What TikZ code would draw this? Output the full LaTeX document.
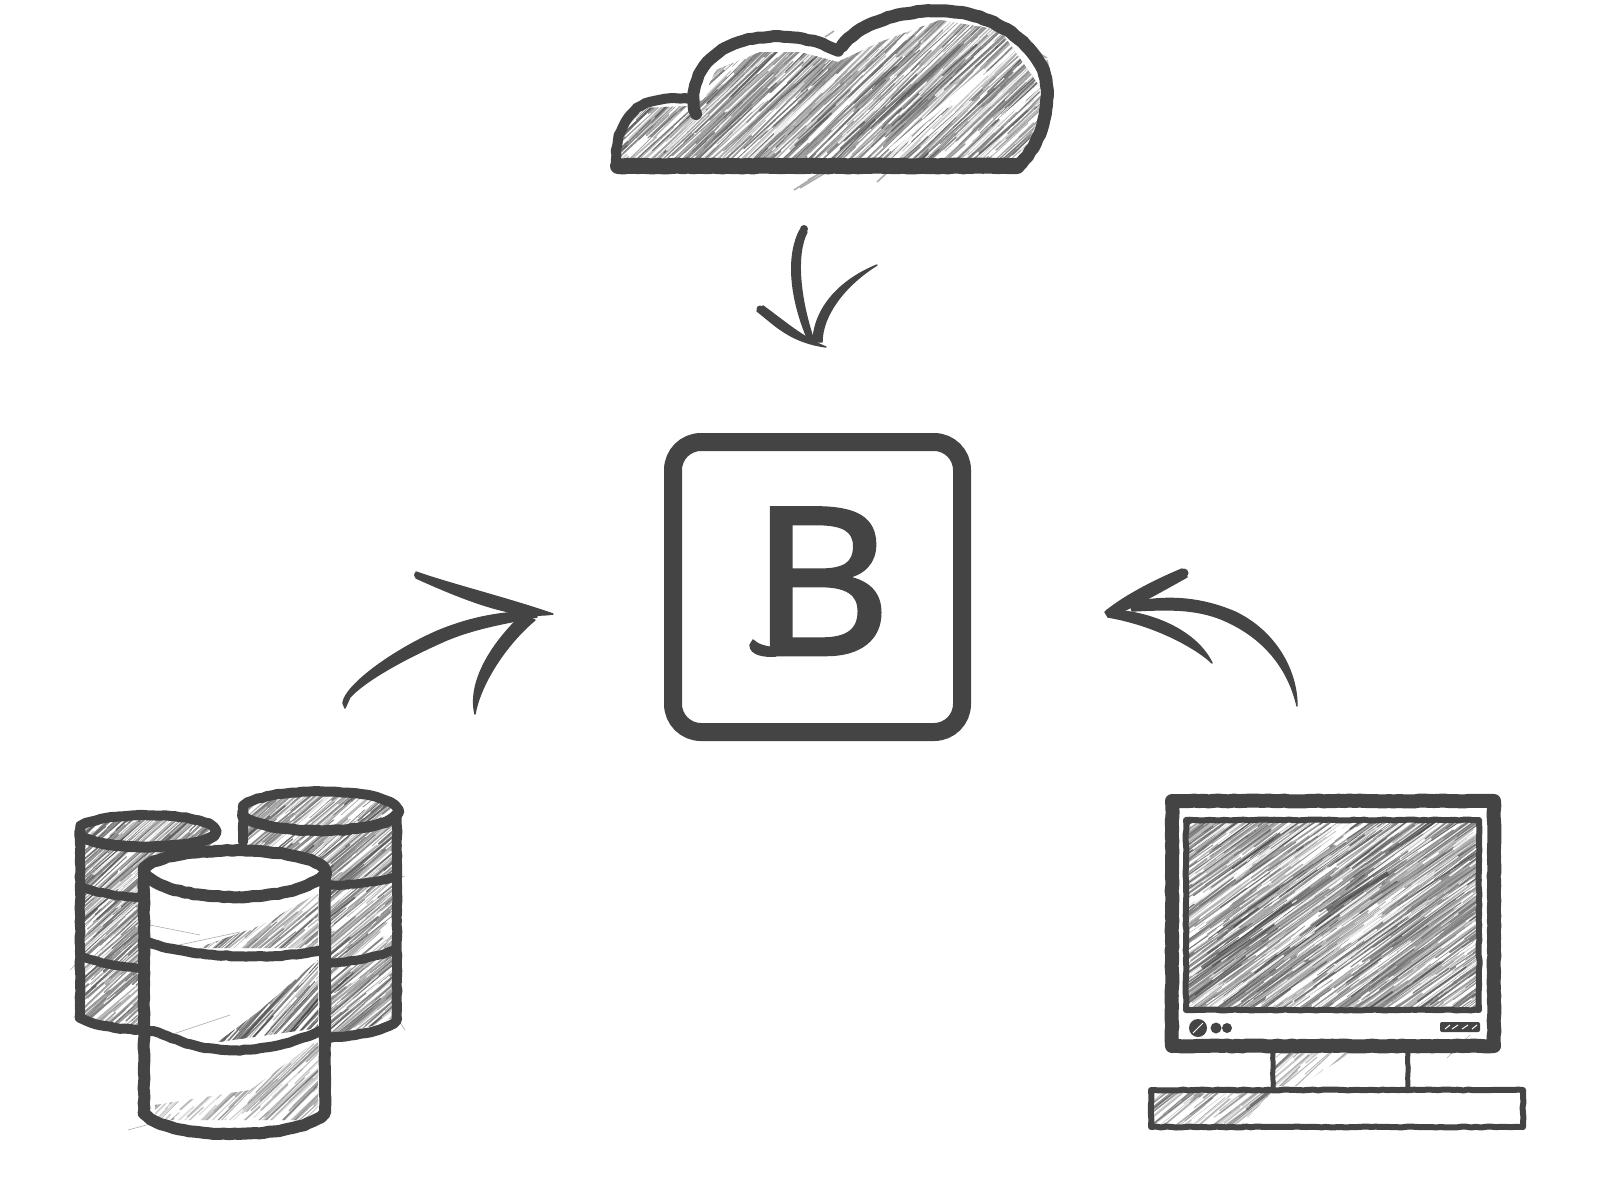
\documentclass[tikz,border=0pt]{standalone}
\usepackage{fontspec}
\usetikzlibrary{decorations.pathmorphing}
\setmainfont{Open Sans}
\newfontfamily\logofont[FakeBold=2.2]{Open Sans}
\definecolor{ink}{HTML}{444444}
\definecolor{lead}{HTML}{4A4A4A}
\tikzset{
  rough/.style={decorate,decoration={random steps,segment length=2.5pt,amplitude=.25pt}},
  sketch/.style={draw=ink,line cap=round,line join=round,rough},
  brush/.style={fill=ink,draw=ink,line width=.7pt,line join=round},
  logobox/.style={draw=ink,line width=9pt,rounded corners=14pt,minimum width=144.5pt,minimum height=145pt,inner sep=0pt,outer sep=0pt},
  logotext/.style={text=ink,inner sep=0pt,font=\logofont\fontsize{102}{102}\selectfont,xscale=1.06},
  stray/.style={draw=lead,line width=.3pt,opacity=.45}
}
% \hatch{xmin}{xmax}{ymin}{ymax}{count}{opacity}{seed}{dy per unit dx}
\newcommand{\hatch}[8]{%
  \pgfmathsetseed{#7}%
  \foreach \hi in {1,...,#5}{%
    \pgfmathsetmacro\hL{18+rnd*80}%
    \pgfmathsetmacro\hx{#1-60+rnd*(#2-#1+60)}%
    \pgfmathsetmacro\hy{#3+rnd*(#4-#3+50)}%
    \pgfmathsetmacro\hw{.25+rnd*.75}%
    \pgfmathsetmacro\hg{25+rnd*50}%
    \pgfmathsetmacro\hs{#8*(.92+rnd*.16)}%
    \draw[draw=black!\hg!white,line width=\hw pt,opacity=#6,line cap=round]
      (\hx,\hy) -- ++(\hL,-\hL*\hs);
  }%
}
% \streaks{xmin}{xmax}{ymin}{ymax}{count}{seed}{dy per unit dx}: white gaps in the shading
\newcommand{\streaks}[7]{%
  \pgfmathsetseed{#6}%
  \foreach \hi in {1,...,#5}{%
    \pgfmathsetmacro\hL{30+rnd*90}%
    \pgfmathsetmacro\hx{#1-50+rnd*(#2-#1+50)}%
    \pgfmathsetmacro\hy{#3+rnd*(#4-#3+50)}%
    \pgfmathsetmacro\hw{.3+rnd*.7}%
    \draw[draw=white,line width=\hw pt,opacity=.85,line cap=round]
      (\hx,\hy) -- ++(\hL,-\hL*#7);
  }%
}
\begin{document}
\begin{tikzpicture}[x=.5pt,y=-.5pt]
\useasboundingbox (0,0) rectangle (1600,1200);

%% ---------- cloud ----------
\begin{scope}
  \clip (617,165) -- (618,135) -- (640,108) -- (690,106) -- (702,100) -- (716,70) -- (760,52) -- (800,52) -- (838,62)
        -- (880,42) -- (940,20) -- (1000,30) -- (1042,90) -- (1040,115) -- (1018,165) -- cycle;
  \hatch{617}{1045}{15}{165}{1150}{.7}{11}{.95}
  \streaks{617}{1045}{15}{165}{55}{12}{.95}
  \draw[draw=ink,line width=1.6pt,opacity=.3] (880,120) -- (960,45);
  \draw[draw=ink,line width=1.6pt,opacity=.3] (790,150) -- (850,90);
  \draw[draw=white,line width=2pt] (890,150) -- (985,70);
  \draw[draw=white,line width=2pt] (1000,120) -- (1040,85);
\end{scope}
\draw[sketch,line width=5pt] (690,99) .. controls (665,96) and (640,100) .. (628,118) .. controls (617,133) and (615,150) .. (617,165);
\draw[sketch,line width=6pt] (696,114) .. controls (688,90) and (700,62) .. (725,48) .. controls (760,30) and (810,35) .. (838,51);
\draw[sketch,line width=6.5pt] (842,46) .. controls (860,22) and (905,9) .. (945,11) .. controls (1000,14) and (1046,50) .. (1047,90) .. controls (1048,115) and (1040,145) .. (1018,166);
\draw[sketch,line width=8pt] (618,166) -- (1017,166);
\draw[stray,line width=.8pt] (794,190) -- (822,172) (800,188) -- (830,170) (808,180) -- (826,170) (877,182) -- (890,170);
\draw[stray,line width=.8pt] (825,37) -- (834,31) (1033,50) -- (1047,58) (1047,60) -- (1049,70);

%% ---------- top arrow ----------
\coordinate (cloudStart) at (804,229);
\coordinate (cloudTip)   at (826,347);
\coordinate (cloudBarbL) at (760,309);
\coordinate (cloudBarbR) at (877,265);
\fill[ink] (cloudStart) circle[radius=4];
\fill[ink] (cloudBarbL) circle[radius=3.5];
\fill[brush] (800,230) .. controls (787,255) and (789,295) .. (808,340) -- (814,341) .. controls (800,300) and (795,255) .. (807,232) -- cycle;
\fill[brush] (757,311) .. controls (775,325) and (790,342) .. (cloudTip) .. controls (803,338) and (785,322) .. (763,306) -- cycle;
\fill[brush] (cloudBarbR) .. controls (840,280) and (814,308) .. (813,342) -- (822,342) .. controls (822,315) and (845,285) .. (cloudBarbR) -- cycle;

%% ---------- left arrow ----------
\coordinate (dbStart) at (345,705);
\coordinate (dbTip)   at (553,614);
\coordinate (dbBarbU) at (417,575);
\coordinate (dbBarbL) at (475,714);
\fill[ink] (dbBarbU) circle[radius=3];
\fill[brush] (343,703) .. controls (345,685) and (395,649) .. (440,630) .. controls (480,614) and (510,612) .. (537,611) -- (537,617) .. controls (505,623) and (470,629) .. (440,643) .. controls (400,661) and (365,681) .. (350,697) -- (345,708) -- cycle;
\fill[brush] (416,572) .. controls (450,584) and (510,599) .. (dbTip) .. controls (520,619) and (480,607) .. (416,578) -- cycle;
\fill[brush] (dbBarbL) .. controls (467,680) and (495,640) .. (522,615) -- (535,620) .. controls (505,645) and (480,685) .. (dbBarbL) -- cycle;

%% ---------- right arrow ----------
\coordinate (pcTip)   at (1105,612);
\coordinate (pcStart) at (1297,706);
\coordinate (pcBarbU) at (1184,573);
\coordinate (pcBarbL) at (1212,663);
\fill[ink] (pcBarbU) circle[radius=4.5];
\fill[brush] (1182,569) .. controls (1160,578) and (1125,595) .. (pcTip) -- (1108,617) .. controls (1125,612) and (1160,592) .. (1187,577) -- cycle;
\fill[brush] (1130,603) .. controls (1165,595) and (1200,597) .. (1235,612) .. controls (1275,631) and (1297,670) .. (pcStart) .. controls (1289,671) and (1267,641) .. (1230,623) .. controls (1200,608) and (1170,609) .. (1132,611) -- cycle;
\fill[brush] (1107,610) .. controls (1145,610) and (1195,628) .. (pcBarbL) .. controls (1200,651) and (1160,626) .. (1108,617) -- cycle;

%% ---------- logo ----------
\node[logobox] (logo) at (817.5,587) {};
\node[logotext,anchor=base] (logoB) at (821,654) {B};
\fill[brush] (753,640) .. controls (758,645) and (766,647) .. (776,648) -- (776,656) .. controls (765,657) and (750,655) .. (750,645) -- cycle;

%% ---------- databases ----------
% back right
\begin{scope}
  \clip (243,811) .. controls (243,785) and (397,785) .. (397,811) -- (397,1020) -- (320,1038) -- (243,1038) -- cycle;
  \hatch{243}{397}{792}{1038}{780}{.72}{21}{.85}
  \streaks{243}{397}{792}{1038}{40}{22}{.85}
\end{scope}
\draw[sketch,line width=5pt] (243,842) -- (243,811) .. controls (243,785) and (397,785) .. (397,811) -- (397,1020) .. controls (385,1032) and (350,1037) .. (320,1038);
\draw[sketch,line width=5.5pt] (243,811) .. controls (243,837) and (397,837) .. (397,811);
\draw[sketch,line width=4.5pt] (325,885) .. controls (350,886) and (375,882) .. (394,877);
\draw[sketch,line width=4.5pt] (325,963) .. controls (350,962) and (375,958) .. (394,950);
% back left
\begin{scope}
  \clip (80,831) .. controls (80,810) and (215,810) .. (215,831) -- (215,1020) -- (150,1030) .. controls (120,1030) and (90,1025) .. (80,1017) -- cycle;
  \hatch{80}{215}{816}{1030}{650}{.72}{31}{.9}
  \streaks{80}{215}{816}{1030}{30}{32}{.9}
\end{scope}
\draw[sketch,line width=5pt] (150,1030) .. controls (120,1030) and (90,1025) .. (80,1017) -- (80,831) .. controls (80,810) and (215,810) .. (215,831);
\draw[sketch,line width=5.5pt] (80,831) .. controls (80,852) and (215,852) .. (215,831);
\draw[sketch,line width=4.5pt] (83,888) .. controls (100,893) and (120,897) .. (145,898);
\draw[sketch,line width=4.5pt] (83,957) .. controls (100,963) and (120,967) .. (145,968);
% front
\fill[white] (144,873) .. controls (144,843) and (325,843) .. (325,873) -- (325,1113) .. controls (300,1140) and (165,1140) .. (144,1113) -- cycle;
\begin{scope}
  \clip (318,893) -- (318,948) -- (198,948) -- (262,925) -- cycle;
  \hatch{198}{318}{893}{948}{150}{.65}{41}{.85}
\end{scope}
\begin{scope}
  \clip (318,960) -- (318,1028) -- (218,1042) -- (258,1012) -- cycle;
  \hatch{218}{318}{960}{1042}{240}{.8}{42}{1.1}
\end{scope}
\begin{scope}
  \clip (318,1040) -- (318,1120) -- (155,1120) -- (155,1105) -- (250,1090) -- cycle;
  \hatch{155}{318}{1040}{1120}{200}{.45}{43}{.95}
\end{scope}
\draw[stray] (150,925) -- (200,935) (165,948) -- (240,932) (170,1035) -- (230,1015);
\draw[stray] (128,1130) -- (150,1124) (78,935) -- (100,910) (70,970) -- (85,955) (395,1015) -- (405,1030) (385,880) -- (405,876);
\draw[sketch,line width=6pt] (144,873) .. controls (144,843) and (325,843) .. (325,873) -- (325,1113) .. controls (300,1141) and (165,1141) .. (144,1113) -- cycle;
\draw[sketch,line width=6pt] (144,873) .. controls (170,905) and (300,905) .. (325,873);
\draw[sketch,line width=5pt] (148,942) .. controls (180,956) and (270,962) .. (322,950);
\draw[sketch,line width=5pt] (148,1031) .. controls (170,1033) and (180,1047) .. (225,1050) .. controls (265,1052) and (300,1040) .. (322,1030);

%% ---------- monitor ----------
\begin{scope}
  \clip (1186,820) rectangle (1479,1010);
  \hatch{1186}{1479}{820}{1010}{1300}{.7}{51}{.72}
  \streaks{1186}{1479}{820}{1010}{70}{54}{.72}
  \draw[draw=ink,line width=2pt,opacity=.7] (1202,968) -- (1292,903);
  \draw[draw=ink,line width=2.2pt,opacity=.7] (1327,910) -- (1388,873);
\end{scope}
\begin{scope}
  \clip (1275,1053) -- (1350,1053) -- (1300,1086) -- (1275,1086) -- cycle;
  \hatch{1275}{1350}{1053}{1086}{70}{.5}{52}{.9}
\end{scope}
\begin{scope}
  \clip (1153,1092) -- (1272,1092) -- (1240,1126) -- (1153,1126) -- cycle;
  \hatch{1153}{1272}{1092}{1126}{130}{.5}{53}{.8}
\end{scope}
\draw[sketch,line width=7pt] (1172,801) rectangle (1494,1046);
\draw[sketch,line width=3pt] (1186,820) rectangle (1479,1010);
\draw[sketch,line width=2.5pt] (1273,1053) -- (1273,1088);
\draw[sketch,line width=2.5pt] (1408,1053) -- (1408,1088);
\draw[sketch,line width=3pt] (1151,1090) rectangle (1523,1127);
\fill[ink] (1198,1028) circle[radius=9];
\draw[white,line width=.5pt] (1193,1033) -- (1203,1023);
\fill[ink] (1216,1028) circle[radius=5.5];
\fill[ink] (1227,1028) circle[radius=5];
\fill[ink,rounded corners=1pt] (1440,1022) rectangle (1480,1032);
\draw[white,line width=.5pt] (1445,1029) -- (1450,1025) (1452,1029) -- (1458,1025) (1462,1029) -- (1468,1025) (1472,1029) -- (1477,1025);
\draw[stray] (1447,1058) -- (1470,1035);
\end{tikzpicture}
\end{document}
